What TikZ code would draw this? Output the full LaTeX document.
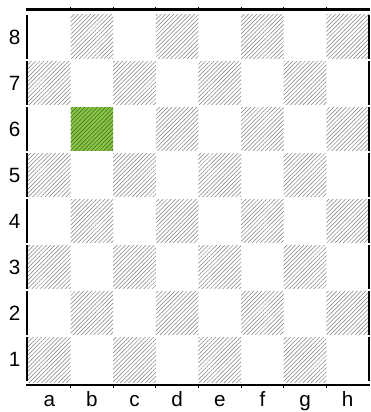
\documentclass[tikz,border=0pt]{standalone}
\usepackage{fontspec}
\setmainfont{Liberation Sans}
\usetikzlibrary{patterns.meta}
\definecolor{hatchgray}{RGB}{125,125,125}
\definecolor{boardgreen}{RGB}{136,198,68}
\definecolor{hatchgreen}{RGB}{70,110,36}
\begin{document}
\begin{tikzpicture}[x=0.75pt,y=-0.75pt,
  lbl/.style={font=\fontsize{15.5}{17}\selectfont, inner sep=0pt},
  hatchsq/.style={pattern={Lines[angle=45,distance=2.2pt,line width=0.38pt]}, pattern color=hatchgray},
  greenhatch/.style={pattern={Lines[angle=45,distance=2.2pt,line width=0.45pt]}, pattern color=hatchgreen},
  thickspine/.style={line width=1.9pt, black},
  thinspine/.style={line width=0.8pt, black},
  tickmark/.style={line width=0.7pt, black},
  gapline/.style={white, line width=1.6pt}]
\useasboundingbox (0,0) rectangle (371,412);
% squares
\foreach \c in {0,...,7}{\foreach \r in {0,...,7}{
  \pgfmathtruncatemacro\oddsq{mod(\c+\r,2)}
  \ifnum\oddsq=0
    \path[hatchsq] ({28+\c*42.625},{14+(7-\r)*46}) rectangle ++(42.625,46);
  \fi}}
% highlighted square b6
\fill[boardgreen] (70.625,106) rectangle ++(42.625,46);
\path[greenhatch] (70.625,106) rectangle ++(42.625,46);
% spines
\draw[thickspine] (27,15) -- (27,381);
\draw[thinspine] (369,15) -- (369,381);
\draw[thickspine] (26,9.5) -- (370,9.5);
\draw[thickspine] (26,385) -- (370,385);
% gaps between rows
\foreach \r in {1,...,7}{
  \draw[gapline] (24,{14+\r*46}) -- (371,{14+\r*46});}
% ticks
\foreach \c in {1,...,7}{
  \draw[tickmark] ({28+\c*42.625},385) -- ++(0,3);
  \draw[tickmark] ({28+\c*42.625},9.5) -- ++(0,-3);}
% rank labels
\foreach \r in {1,...,8}{
  \node[lbl] (r\r) at (14.5,{14+(8-\r)*46+23}) {\r};}
% file labels
\foreach \f [count=\i from 0] in {a,b,c,d,e,f,g,h}{
  \node[lbl, anchor=base] (f\f) at ({28+\i*42.625+21.3},406) {\f};}
\end{tikzpicture}
\end{document}
